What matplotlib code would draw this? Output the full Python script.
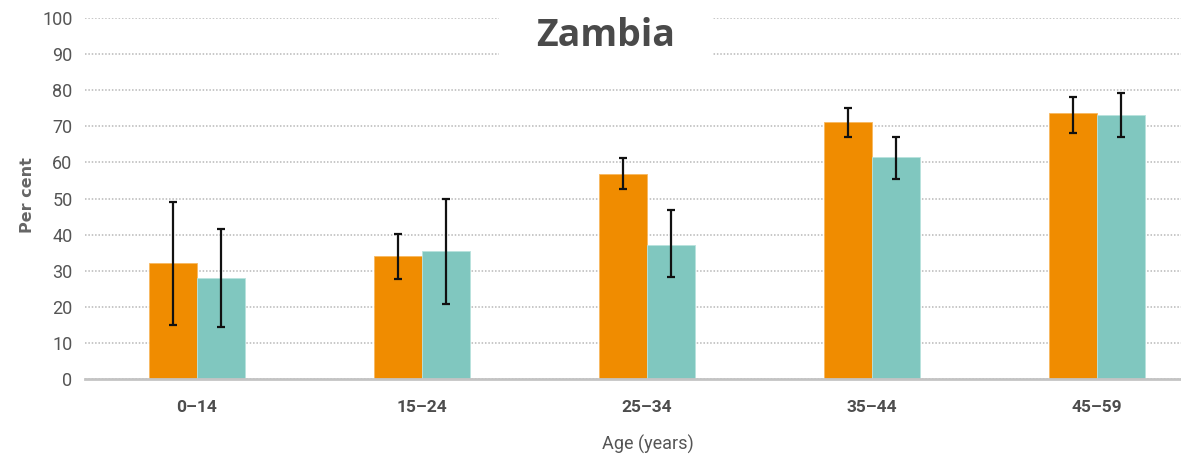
import matplotlib
matplotlib.use("Agg")
import matplotlib.pyplot as plt
from matplotlib.patches import Rectangle
import numpy as np

# Age groups and the two series (per cent), with lower/upper confidence bounds
age_groups = ["0–14", "15–24", "25–34", "35–44", "45–59"]
orange_vals = [32.0, 34.2, 56.9, 71.3, 73.6]
orange_low = [15.0, 27.7, 52.5, 67.0, 68.2]
orange_high = [49.1, 40.3, 61.3, 75.2, 78.0]
teal_vals = [27.9, 35.5, 37.1, 61.4, 73.0]
teal_low = [14.3, 20.8, 28.3, 55.4, 67.0]
teal_high = [41.5, 49.9, 46.7, 67.0, 79.1]
y_ticks = [0, 10, 20, 30, 40, 50, 60, 70, 80, 90, 100]

ORANGE = "#F08C00"
TEAL = "#80C7BF"
TEXT = "#555555"

narrow = ["Liberation Sans Narrow", "Roboto", "DejaVu Sans"]

W, H = 1181, 459
fig = plt.figure(figsize=(W / 100, H / 100), dpi=100)
ax_w = W - 85
ax_h = 379 - 18
ax = fig.add_axes([85 / W, 1 - 379 / H, ax_w / W, ax_h / H])

x = np.arange(len(age_groups))
bw = 0.213

def err(vals, lo, hi):
    v = np.array(vals)
    return np.vstack([v - np.array(lo), np.array(hi) - v])

ebar = dict(ecolor="#111111", elinewidth=1.6, capsize=3, capthick=1.6)
ax.bar(x - bw / 2, orange_vals, bw, color=ORANGE, edgecolor="#F7B860",
       linewidth=0.6, yerr=err(orange_vals, orange_low, orange_high),
       error_kw=ebar, zorder=3)
ax.bar(x + bw / 2, teal_vals, bw, color=TEAL, edgecolor="#B8E2DD",
       linewidth=0.6, yerr=err(teal_vals, teal_low, teal_high),
       error_kw=ebar, zorder=3)

ax.set_xlim(-0.498, 4.373)
ax.set_ylim(0, 100)
ax.set_yticks(y_ticks)
ax.set_xticks(x)
ax.set_xticklabels(age_groups)

for s in ["top", "right", "left"]:
    ax.spines[s].set_visible(False)
ax.spines["bottom"].set_color("#c4c4c4")
ax.spines["bottom"].set_linewidth(2)
ax.spines["bottom"].set_zorder(4)

ax.yaxis.grid(True, color="#b8b8b8", linestyle=(0, (1, 1.2)), linewidth=1.1)
ax.set_axisbelow(True)
ax.tick_params(axis="both", length=0, colors=TEXT)
ax.tick_params(axis="y", pad=9)
ax.tick_params(axis="x", pad=15)
for lab in ax.get_yticklabels():
    lab.set_family(narrow)
    lab.set_fontsize(13)
    lab.set_color(TEXT)
for lab in ax.get_xticklabels():
    lab.set_family(narrow)
    lab.set_fontsize(12.5)
    lab.set_color("#4d4d4d")
    lab.set_fontweight("bold")

ax.set_ylabel("Per cent", family="DejaVu Sans", fontweight="bold",
              fontsize=11.5, color="#666666", va="center")
ax.yaxis.set_label_coords((28 - 85) / ax_w, (379 - 195) / ax_h)
ax.set_xlabel("Age (years)", family=narrow, fontsize=13, color=TEXT,
              va="center")
ax.xaxis.set_label_coords((648 - 85) / ax_w, (379 - 444) / ax_h)

# White panel behind the title so the grid stops around it
x0 = (499 - 197) / 225
x1 = (712 - 197) / 225
ax.add_patch(Rectangle((x0, 84), x1 - x0, 20, facecolor="white",
                       edgecolor="none", zorder=1.5, clip_on=False))
ax.text((606 - 197) / 225, 95.0, "Zambia", ha="center", va="center",
        family=["Open Sans", "DejaVu Sans"], fontweight="bold",
        fontsize=27, color="#4a4a4a", zorder=5)

fig.savefig("out.png", dpi=100)
